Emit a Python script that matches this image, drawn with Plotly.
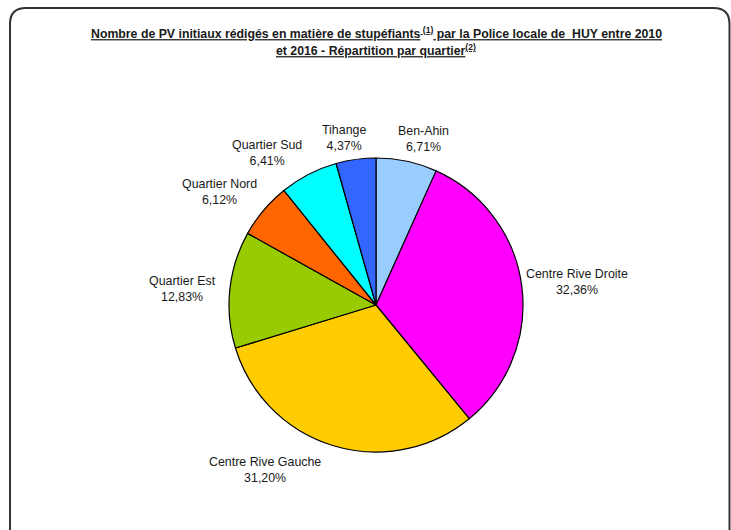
import math
import plotly.graph_objects as go

# Quarters of Huy, listed clockwise from 12 o'clock
quartiers = [
    "Ben-Ahin",
    "Centre Rive Droite",
    "Centre Rive Gauche",
    "Quartier Est",
    "Quartier Nord",
    "Quartier Sud",
    "Tihange",
]
# Share of initial police reports (%)
parts = [6.71, 32.36, 31.20, 12.83, 6.12, 6.41, 4.37]

colors = ["#99CCFF", "#FF00FF", "#FFCC00", "#99CC00", "#FF6600", "#00FFFF", "#3366FF"]

W, H = 731, 530
CX, CY, R = 376, 305, 147          # pie centre and radius in pixels
LABEL_R = 155                       # distance of label anchor from centre
# small per-label nudges (pixels) to keep labels clear of neighbours
nudges = [(15, 3), (-6, -3), (-66, 0), (-4, 0), (1, 4), (-1, 3), (-11, 4)]

font_family = "Liberation Sans, Arial, sans-serif"
text_color = "#1a1a1a"

fig = go.Figure(
    go.Pie(
        labels=quartiers,
        values=parts,
        sort=False,
        direction="clockwise",
        rotation=0,
        marker=dict(colors=colors, line=dict(color="#000000", width=1.2)),
        textinfo="none",
        hoverinfo="label+percent",
        showlegend=False,
        domain=dict(
            x=[(CX - R) / W, (CX + R) / W],
            y=[(H - CY - R) / H, (H - CY + R) / H],
        ),
    )
)

# Labels "Name / xx,xx%" placed outside each slice at its mid-angle
total = sum(parts)
cum = 0.0
annotations = []
for name, v, (dx, dy) in zip(quartiers, parts, nudges):
    mid = (cum + v / 2) / total * 2 * math.pi
    cum += v
    s, c = math.sin(mid), math.cos(mid)
    px = CX + LABEL_R * s + dx
    py = CY - LABEL_R * c + dy
    xanchor = "left" if s > 0.3 else ("right" if s < -0.3 else "center")
    yanchor = "bottom" if c > 0.3 else ("top" if c < -0.3 else "middle")
    pct = f"{v:.2f}".replace(".", ",") + "%"
    annotations.append(
        dict(
            x=px / W, y=1 - py / H, xref="paper", yref="paper",
            text=f"{name}<br>{pct}", showarrow=False,
            xanchor=xanchor, yanchor=yanchor, align="center",
            font=dict(family=font_family, size=12.4, color=text_color),
        )
    )

# Two-line underlined bold title
title_lines = [
    "<b><u>Nombre de PV initiaux rédigés en matière de stupéfiants<sup> (1)</sup>"
    " par la Police locale de  HUY entre 2010</u></b>",
    "<b><u>et 2016 - Répartition par quartier<sup>(2)</sup></u></b>",
]
for line, ty in zip(title_lines, [33, 50]):
    annotations.append(
        dict(
            x=CX / W, y=1 - ty / H, xref="paper", yref="paper",
            text=line, showarrow=False, xanchor="center", yanchor="middle",
            font=dict(family=font_family, size=12.3, color=text_color),
        )
    )

# Rounded frame around the chart (runs off the bottom edge)
x0, x1, y0, y1, rad = 10, 729.5, 8, 560, 16
def P(x, y):
    return f"{x / W:.5f},{1 - y / H:.5f}"
frame = (
    f"M {P(x0, y1)} L {P(x0, y0 + rad)} Q {P(x0, y0)} {P(x0 + rad, y0)} "
    f"L {P(x1 - rad, y0)} Q {P(x1, y0)} {P(x1, y0 + rad)} L {P(x1, y1)}"
)

fig.update_layout(
    width=W, height=H,
    margin=dict(l=0, r=0, t=0, b=0),
    paper_bgcolor="white",
    plot_bgcolor="white",
    annotations=annotations,
    shapes=[dict(type="path", path=frame, xref="paper", yref="paper",
                 line=dict(color="#333333", width=2))],
)

fig.write_html("out.html")
